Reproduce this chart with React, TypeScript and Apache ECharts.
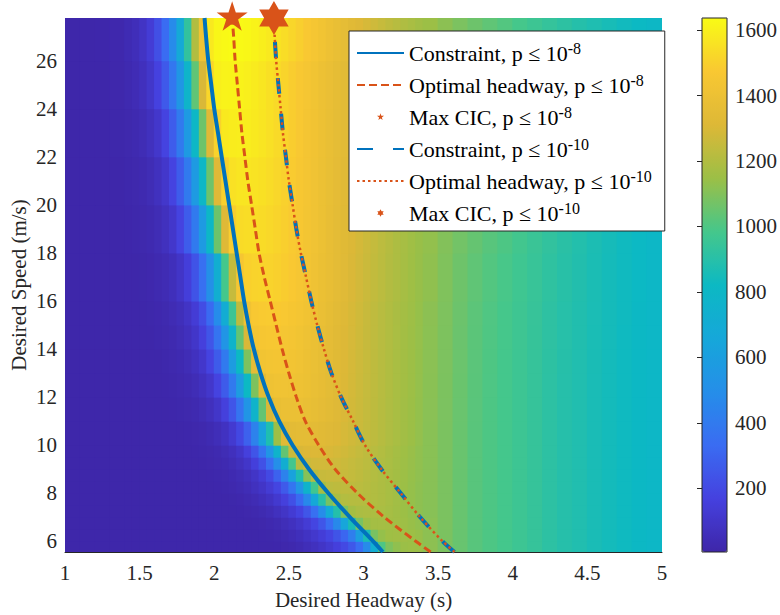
import React, { useEffect, useRef } from 'react';
import * as echarts from 'echarts';

// ---------- Data ----------
// speeds (m/s) at which the curves were read
const speedPts = [5.5556, 6, 7, 8, 9, 10, 11, 12, 13, 14, 15, 16, 17, 18, 19, 20, 21, 22, 23, 24, 25, 26, 27, 27.7778];
// headway (s) of each curve at those speeds
const constraint8 = [3.13, 3.065, 2.91, 2.765, 2.635, 2.525, 2.435, 2.365, 2.31, 2.265, 2.23, 2.2, 2.175, 2.15, 2.125, 2.1, 2.075, 2.05, 2.025, 2.0, 1.98, 1.96, 1.945, 1.935];
const optimal8 = [3.45, 3.35, 3.14, 2.96, 2.81, 2.7, 2.61, 2.55, 2.5, 2.455, 2.415, 2.375, 2.335, 2.3, 2.275, 2.25, 2.225, 2.205, 2.185, 2.17, 2.155, 2.14, 2.13, 2.12];
const constraint10 = [3.61, 3.53, 3.38, 3.25, 3.12, 3.01, 2.93, 2.85, 2.785, 2.735, 2.69, 2.65, 2.615, 2.58, 2.55, 2.525, 2.5, 2.48, 2.46, 2.445, 2.43, 2.415, 2.405, 2.4];
const optimal10 = [3.61, 3.53, 3.38, 3.25, 3.12, 3.01, 2.93, 2.85, 2.785, 2.735, 2.69, 2.65, 2.615, 2.58, 2.55, 2.525, 2.5, 2.48, 2.46, 2.445, 2.43, 2.415, 2.405, 2.4];
const maxCic8 = [2.12, 27.7778];
const maxCic10 = [2.4, 27.7778];

// heat-map cell edges: headway columns (0.1 wide at the sides, 0.05 wide in 1.4..3.4), speed rows
const headwayEdges = [1.0, 1.1, 1.2, 1.3, 1.4,
  1.45, 1.5, 1.55, 1.6, 1.65, 1.7, 1.75, 1.8, 1.85, 1.9, 1.95, 2.0, 2.05, 2.1, 2.15, 2.2, 2.25, 2.3, 2.35, 2.4,
  2.45, 2.5, 2.55, 2.6, 2.65, 2.7, 2.75, 2.8, 2.85, 2.9, 2.95, 3.0, 3.05, 3.1, 3.15, 3.2, 3.25, 3.3, 3.35, 3.4,
  3.5, 3.6, 3.7, 3.8, 3.9, 4.0, 4.1, 4.2, 4.3, 4.4, 4.5, 4.6, 4.7, 4.8, 4.9, 5.0];
const speedEdges = [5.5556, 6, 6.5, 7, 7.5, 8, 8.5, 9, 9.5, 10, 11, 12, 13, 14, 15, 16, 18, 20, 22, 24, 26, 27.7778];

// CIC value in each cell, one array per speed row (bottom to top)
const cicRow00 = [10,10,10,10, 10,10,10,10,11,11,11,11,11,11,12,12,12,12,12,12,12,12,12,12, 13,17,24,35,51,71,95,123,158,200,255,340,480,720,1000,1090,1125,1145,1150,1145, 1120,1085,1050,1020,1000,980,960,940,915,895,880,860,845,830,815,800];
const cicRow01 = [10,10,10,10, 10,10,10,10,11,11,11,11,11,11,12,12,12,12,12,12,12,12, 13,15,21,29,43,62,85,112,145,185,240,310,420,600,860,1080,1135,1155,1160,1160,1150,1140, 1120,1085,1050,1020,1000,980,960,940,915,895,880,860,845,830,815,800];
const cicRow02 = [10,10,10,10, 10,10,10,10,11,11,11,11,11,11,12,12,12,12,12,12, 12,14,18,25,36,52,73,100,136,182,248,340,470,650,860,1080,1150,1168,1170,1168,1163,1152,1140,1128, 1115,1085,1050,1020,1000,980,960,940,915,895,880,860,845,830,815,800];
const cicRow03 = [10,10,10,10, 10,10,10,10,11,11,11,11,11,11,12,12,12,12, 12,13,17,23,33,48,69,95,132,177,247,350,490,690,890,1090,1165,1185,1190,1188,1182,1172,1160,1147,1135,1122, 1110,1085,1050,1020,1000,980,960,940,915,895,880,860,845,830,815,800];
const cicRow04 = [10,10,10,10, 10,10,10,10,11,11,11,11,11,11,12,12,12, 12,15,20,29,42,60,86,120,160,225,325,470,670,900,1080,1185,1205,1210,1210,1208,1200,1190,1178,1162,1148,1135,1122, 1110,1085,1050,1020,1000,980,960,940,915,895,880,860,845,830,815,800];
const cicRow05 = [10,10,10,10, 10,10,10,10,11,11,11,11,11,11,12,12, 13,16,23,33,48,70,97,136,185,262,375,540,770,970,1170,1225,1230,1232,1230,1222,1212,1200,1190,1178,1162,1148,1135,1122, 1110,1085,1050,1020,1000,980,960,940,915,895,880,860,845,830,815,800];
const cicRow06 = [10,10,10,10, 10,10,10,10,11,11,11,11,11,11,12, 13,16,21,31,45,65,93,138,200,295,435,625,870,1105,1220,1255,1260,1260,1255,1245,1232,1218,1205,1192,1178,1164,1150,1137,1124, 1110,1085,1050,1020,1000,980,960,940,915,895,880,860,845,830,815,800];
const cicRow07 = [10,10,10,10, 10,10,10,10,11,11,11,11,11,11, 13,17,23,32,48,70,104,155,230,345,500,715,975,1215,1270,1280,1282,1280,1272,1262,1250,1237,1224,1210,1196,1182,1167,1152,1139,1126, 1112,1086,1052,1022,1000,980,960,940,915,895,880,860,845,830,815,800];
const cicRow08 = [10,10,10,10, 10,10,10,10,11,11,11,11,11, 13,16,21,30,45,67,102,160,245,370,540,770,1040,1260,1300,1310,1312,1308,1300,1290,1277,1263,1248,1234,1218,1202,1186,1170,1155,1141,1127, 1112,1086,1052,1022,1000,980,960,940,915,895,880,860,845,830,815,800];
const cicRow09 = [10,10,10,10, 10,10,10,10,11,11,11,12, 14,18,24,35,52,79,123,193,290,435,630,875,1150,1330,1345,1350,1350,1345,1336,1324,1310,1294,1278,1262,1246,1230,1213,1196,1179,1162,1147,1132, 1112,1086,1052,1022,1000,980,960,940,915,895,880,860,845,830,815,800];
const cicRow10 = [10,10,10,10, 10,10,10,11,11,12,13, 16,21,30,45,67,102,160,245,370,540,770,1040,1300,1380,1390,1392,1390,1382,1370,1356,1340,1322,1303,1284,1265,1248,1230,1213,1196,1179,1163,1148,1133, 1113,1087,1053,1023,1000,980,960,940,915,895,880,860,845,830,815,800];
const cicRow11 = [10,10,10,10, 10,10,10,11,11,13, 16,22,32,48,72,110,175,265,400,585,820,1090,1340,1410,1420,1422,1418,1410,1398,1383,1366,1347,1328,1308,1288,1268,1250,1232,1214,1197,1180,1164,1149,1134, 1114,1088,1054,1024,1001,981,961,940,915,895,880,860,845,830,815,800];
const cicRow12 = [10,10,10,10, 10,10,10,11,12, 16,22,32,48,72,110,175,265,400,585,820,1090,1350,1430,1440,1442,1440,1432,1420,1405,1388,1370,1350,1330,1310,1290,1270,1252,1233,1215,1198,1181,1165,1150,1135, 1115,1089,1055,1025,1002,982,962,941,916,896,880,861,845,830,815,800];
const cicRow13 = [10,10,10,10, 10,10,11,12, 16,21,30,45,67,102,160,245,370,540,770,1040,1300,1440,1458,1462,1460,1453,1442,1428,1412,1394,1375,1355,1334,1313,1293,1273,1254,1235,1217,1199,1182,1166,1151,1136, 1116,1090,1056,1026,1003,983,963,942,917,897,881,862,846,831,815,800];
const cicRow14 = [10,10,10,10, 10,11,12, 15,19,27,40,59,90,140,215,325,485,700,955,1230,1420,1470,1480,1482,1478,1470,1458,1443,1426,1407,1387,1365,1342,1318,1296,1275,1255,1236,1218,1200,1183,1167,1152,1137, 1117,1091,1057,1027,1004,984,964,943,918,898,882,863,847,832,816,801];
const cicRow15 = [10,10,10,11, 11,12, 15,20,28,41,62,96,152,235,350,510,725,980,1250,1450,1500,1510,1512,1508,1500,1488,1472,1455,1436,1416,1394,1372,1349,1326,1304,1283,1263,1243,1224,1206,1189,1172,1156,1140, 1125,1095,1062,1035,1010,990,967,946,922,902,884,864,848,833,817,801];
const cicRow16 = [10,10,11,11, 13,16,21,30,45,70,110,175,270,400,570,800,1060,1320,1490,1535,1540,1540,1535,1525,1512,1497,1480,1461,1441,1420,1398,1376,1353,1330,1308,1287,1267,1247,1228,1209,1191,1174,1158,1142, 1130,1100,1070,1045,1020,1000,975,952,930,908,888,868,850,833,817,802];
const cicRow17 = [10,11,11,12, 16,21,30,45,70,110,175,270,400,570,800,1060,1320,1500,1555,1565,1566,1560,1550,1537,1521,1503,1484,1464,1443,1421,1399,1377,1355,1333,1311,1290,1270,1250,1231,1212,1194,1177,1161,1145, 1130,1100,1070,1045,1020,1000,975,952,930,908,888,868,850,833,817,802];
const cicRow18 = [10,11,12,15, 21,30,45,70,110,175,270,400,570,800,1060,1320,1510,1580,1590,1592,1588,1578,1565,1549,1531,1511,1490,1469,1447,1425,1403,1381,1359,1337,1315,1294,1274,1254,1235,1216,1198,1181,1165,1150, 1140,1110,1080,1052,1027,1005,980,957,934,912,891,871,852,835,818,803];
const cicRow19 = [11,11,12,17, 29,44,67,105,168,260,385,550,775,1035,1300,1520,1598,1610,1612,1608,1598,1585,1569,1551,1532,1512,1491,1470,1449,1428,1406,1385,1363,1341,1319,1298,1278,1258,1239,1220,1202,1185,1169,1154, 1145,1115,1085,1057,1032,1008,983,960,937,915,893,873,854,836,819,804];
const cicRow20 = [11,11,13,20, 37,56,88,140,220,330,480,680,930,1200,1420,1580,1620,1632,1636,1632,1624,1612,1597,1580,1561,1540,1518,1496,1474,1451,1428,1405,1382,1359,1336,1314,1293,1272,1252,1233,1214,1196,1179,1162, 1147,1117,1087,1059,1034,1010,985,961,938,916,894,874,855,837,820,805];
const cicRows = [cicRow00, cicRow01, cicRow02, cicRow03, cicRow04, cicRow05, cicRow06, cicRow07, cicRow08, cicRow09, cicRow10,
  cicRow11, cicRow12, cicRow13, cicRow14, cicRow15, cicRow16, cicRow17, cicRow18, cicRow19, cicRow20];

const xTickStep = 0.5;
const yTickValues = [6, 8, 10, 12, 14, 16, 18, 20, 22, 24, 26];
const cbTickValues = [200, 400, 600, 800, 1000, 1200, 1400, 1600];
const cbMin = 5;
const cbMax = 1637;

// ---------- Styling ----------
const parula = ['#3e26a8', '#4541df', '#3a6cf2', '#258ee9', '#16a7d9', '#0cb9c3', '#45c78b', '#9cbf46', '#ddb837', '#f9c832', '#f9fb15'];
const BLUE = '#0072bd';
const ORANGE = '#d95319';
const AXIS = '#262626';
const FONT = '"Liberation Serif", "Times New Roman", serif';

const N1 = 'Constraint, p ≤ 10-8';
const N2 = 'Optimal headway, p ≤ 10-8';
const N3 = 'Max CIC, p ≤ 10-8';
const N4 = 'Constraint, p ≤ 10-10';
const N5 = 'Optimal headway, p ≤ 10-10';
const N6 = 'Max CIC, p ≤ 10-10';

function starPath(points: number, inner: number, pad: number) {
  const pts: string[] = [];
  for (let k = 0; k < points * 2; k++) {
    const r = k % 2 === 0 ? 1 : inner;
    const a = -Math.PI / 2 + (k * Math.PI) / points;
    pts.push((r * Math.cos(a)).toFixed(4) + ' ' + (r * Math.sin(a)).toFixed(4));
  }
  let d = pad ? `M0 ${-pad} L0 ${-pad} M0 ${pad} L0 ${pad} ` : '';
  d += 'M' + pts.join(' L') + ' Z';
  return 'path://' + d;
}

function pairs(xs: number[], ys: number[]) {
  return xs.map((x, i) => [x, ys[i]]);
}

function buildCells() {
  const cells: number[][] = [];
  for (let r = 0; r < cicRows.length; r++) {
    const row = cicRows[r];
    for (let c = 0; c < headwayEdges.length - 1 && c < row.length; c++) {
      cells.push([headwayEdges[c], headwayEdges[c + 1], speedEdges[r], speedEdges[r + 1], row[c]]);
    }
  }
  return cells;
}

function tickText(x: number, y: number, text: string, align: string, vAlign: string) {
  return {
    type: 'text', x, y, z: 50, silent: true,
    style: {
      text, fill: AXIS, fontFamily: FONT, fontSize: 21,
      align, verticalAlign: vAlign, textAlign: align, textVerticalAlign: vAlign,
    },
  };
}

export default function App() {
  const ref = useRef<HTMLDivElement>(null);
  useEffect(() => {
    document.body.style.margin = '0';
    const chart = echarts.init(ref.current!, null, { renderer: 'svg' });
    const nameStyle = { fontFamily: FONT, fontSize: 21, color: AXIS };
    const hiddenDot = { color: 'rgba(0,0,0,0)', borderWidth: 0, opacity: 0 };
    const borderRect = { type: 'rect', z: 100, shape: { x: 702, y: 18, width: 25, height: 534 }, style: { fill: 'none', stroke: AXIS, lineWidth: 1 } };
    const option: any = {
      animation: false,
      textStyle: { fontFamily: FONT },
      grid: [
        { left: 64, top: 18, width: 598, height: 534 },
        { left: 702, top: 18, width: 25, height: 534 },
      ],
      xAxis: [
        {
          type: 'value', gridIndex: 0, min: 1, max: 5, interval: xTickStep,
          name: 'Desired Headway (s)', nameLocation: 'middle', nameGap: 37,
          nameTextStyle: { ...nameStyle },
          axisLine: { show: true, onZero: false, lineStyle: { color: AXIS, width: 1 } },
          axisTick: { show: false },
          splitLine: { show: false },
          axisLabel: { show: false },
        },
        { type: 'value', gridIndex: 1, min: 0, max: 1, show: false },
      ],
      yAxis: [
        {
          type: 'value', gridIndex: 0, min: 5.5556, max: 27.7778,
          name: 'Desired Speed (m/s)', nameLocation: 'middle', nameGap: 36,
          nameTextStyle: { ...nameStyle },
          axisLine: { show: false },
          axisTick: { show: false },
          splitLine: { show: false },
          axisLabel: { show: false },
        },
        {
          type: 'value', gridIndex: 1, min: cbMin, max: cbMax, position: 'right', z: 10,
          axisLine: { show: false },
          axisTick: { show: true, inside: true, length: 5, customValues: cbTickValues, lineStyle: { color: AXIS } },
          splitLine: { show: false },
          axisLabel: { show: false },
        },
      ],
      visualMap: {
        type: 'continuous', min: cbMin, max: cbMax, dimension: 4, seriesIndex: 0,
        inRange: { color: parula },
        orient: 'vertical', left: 702, top: 18, itemWidth: 25, itemHeight: 534,
        calculable: false, padding: 0, text: null, showLabel: false, hoverLink: false,
      },
      legend: {
        orient: 'vertical', left: 349, top: 31, selectedMode: false,
        itemWidth: 47, itemHeight: 14, itemGap: 6,
        padding: [9, 13, 5, 7],
        backgroundColor: '#ffffff', borderColor: AXIS, borderWidth: 1, borderRadius: 0,
        data: [
          { name: N1, itemStyle: hiddenDot },
          { name: N2, itemStyle: hiddenDot },
          { name: N3, icon: starPath(5, 0.382, 1.9) },
          { name: N4, itemStyle: hiddenDot },
          { name: N5, itemStyle: hiddenDot },
          { name: N6, icon: starPath(6, 0.577, 1.9) },
        ],
        formatter: (name: string) => {
          const m = name.match(/^(.*10)(-\d+)$/);
          return m ? `{b|${m[1]}}{s|${m[2]}}` : name;
        },
        textStyle: {
          fontFamily: FONT, fontSize: 22, color: '#000', lineHeight: 26,
          rich: {
            b: { fontFamily: FONT, fontSize: 22, color: '#000', lineHeight: 26 },
            s: { fontFamily: FONT, fontSize: 16, color: '#000', lineHeight: 12, verticalAlign: 'top' },
          },
        },
      },
      graphic: [borderRect],
      series: [
        {
          type: 'custom', name: 'cic', xAxisIndex: 0, yAxisIndex: 0,
          data: buildCells(), encode: { x: [0, 1], y: [2, 3] },
          silent: true, z: 1,
          renderItem: (params: any, api: any) => {
            const p0 = api.coord([api.value(0), api.value(3)]);
            const p1 = api.coord([api.value(1), api.value(2)]);
            const cs = params.coordSys;
            const shape = echarts.graphic.clipRectByRect(
              { x: p0[0] - 0.5, y: p0[1] - 0.5, width: p1[0] - p0[0] + 1, height: p1[1] - p0[1] + 1 },
              { x: cs.x, y: cs.y, width: cs.width, height: cs.height }
            );
            if (!shape) return null;
            return { type: 'rect', shape, style: { fill: api.visual('color') } };
          },
        },
        {
          type: 'line', name: N1, data: pairs(constraint8, speedPts), symbol: 'none', smooth: 0.3, z: 3,
          lineStyle: { color: BLUE, width: 4, type: 'solid' }, itemStyle: { color: BLUE },
        },
        {
          type: 'line', name: N2, data: pairs(optimal8, speedPts), symbol: 'none', smooth: 0.3, z: 3,
          lineStyle: { color: ORANGE, width: 3, type: [8, 4] }, itemStyle: { color: ORANGE },
        },
        {
          type: 'scatter', name: N3, data: [maxCic8], symbol: starPath(5, 0.382, 0), symbolSize: 31,
          symbolKeepAspect: true, symbolOffset: [0, -2], clip: false, z: 6,
          itemStyle: { color: ORANGE, opacity: 1 },
        },
        {
          type: 'line', name: N4, data: pairs(constraint10, speedPts), symbol: 'none', smooth: 0.3, z: 4,
          lineStyle: { color: BLUE, width: 4, type: [16, 20] }, itemStyle: { color: BLUE },
        },
        {
          type: 'line', name: N5, data: pairs(optimal10, speedPts), symbol: 'none', smooth: 0.3, z: 5,
          lineStyle: { color: ORANGE, width: 2.5, type: [2.5, 3] }, itemStyle: { color: ORANGE },
        },
        {
          type: 'scatter', name: N6, data: [maxCic10], symbol: starPath(6, 0.577, 0), symbolSize: 34,
          symbolKeepAspect: true, clip: false, z: 6,
          itemStyle: { color: ORANGE, opacity: 1 },
        },
      ],
    };
    chart.setOption(option);

    // tick labels placed through the axes' own scales
    const labels: any[] = [borderRect];
    const yBottom = speedEdges[0];
    for (let v = 1; v <= 5 + 1e-9; v += xTickStep) {
      const p = chart.convertToPixel({ gridIndex: 0 }, [v, yBottom]) as number[];
      labels.push(tickText(p[0], p[1] + 10, String(v), 'center', 'top'));
    }
    for (const v of yTickValues) {
      const p = chart.convertToPixel({ gridIndex: 0 }, [1, v]) as number[];
      labels.push(tickText(p[0] - 8, p[1], String(v), 'right', 'middle'));
    }
    const cbRight = chart.convertToPixel({ xAxisIndex: 1 }, 1) as number;
    for (const v of cbTickValues) {
      const py = chart.convertToPixel({ yAxisIndex: 1 }, v) as number;
      labels.push(tickText(cbRight + 8, py, String(v), 'left', 'middle'));
    }
    chart.setOption({ graphic: labels });
    return () => chart.dispose();
  }, []);
  return <div ref={ref} style={{ width: 780, height: 615 }} />;
}
